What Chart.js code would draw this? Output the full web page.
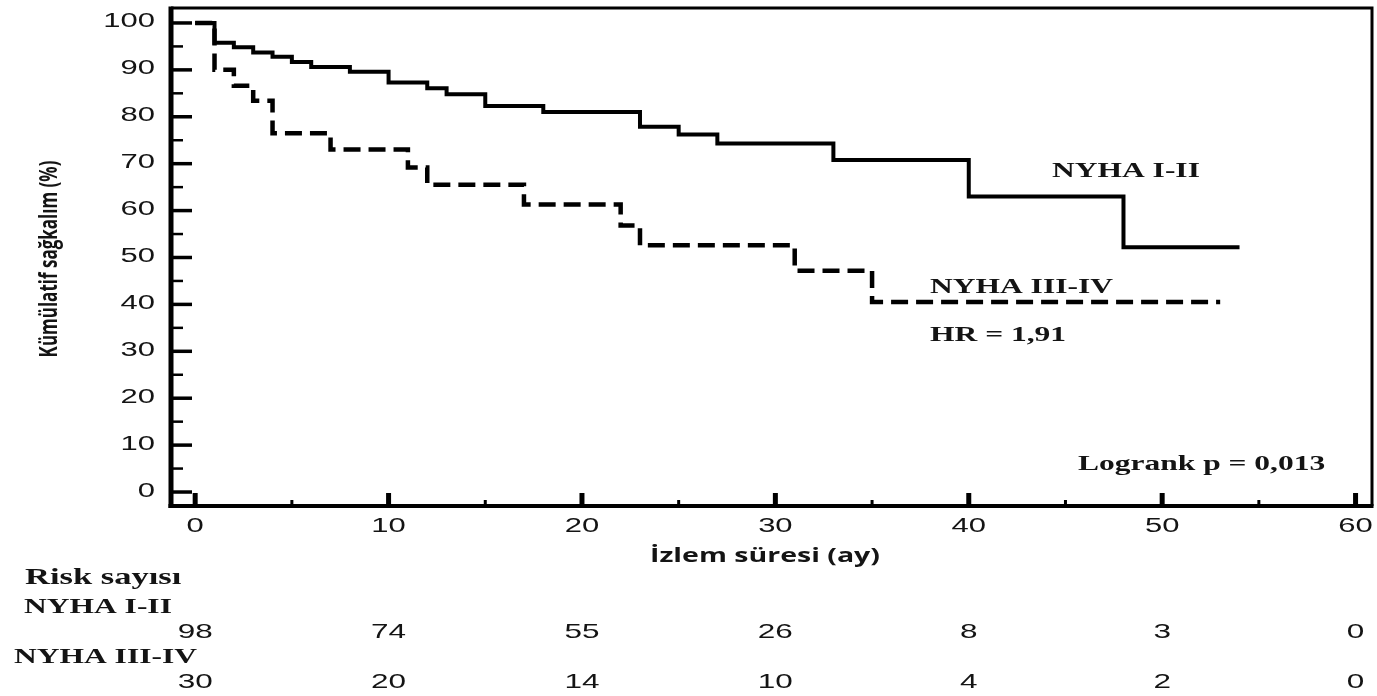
<!DOCTYPE html>
<html lang="tr">
<head>
<meta charset="utf-8">
<title>Kümülatif sağkalım – NYHA sınıfı</title>
<script src="https://cdn.jsdelivr.net/npm/chart.js@4/dist/chart.umd.min.js"></script>
<style>
  html, body { margin: 0; padding: 0; background: #ffffff; }
  #wrap { width: 1377px; height: 696px; }
</style>
</head>
<body>
<div id="wrap"><canvas id="km" width="1377" height="696"></canvas></div>
<script>
// Kaplan–Meier survival steps (months, cumulative survival %)
const nyha12Months = [0, 1, 2, 3, 4, 5, 6, 8, 10, 12, 13, 15, 18, 23, 25, 27, 33, 40, 48, 54];
const nyha12Surv   = [100, 95.8, 94.8, 93.7, 92.8, 91.7, 90.6, 89.6, 87.3, 86.1, 84.8, 82.3, 81.0, 77.9, 76.2, 74.3, 70.8, 63.0, 52.2, 52.2];

const nyha34Months = [0, 1, 2, 3, 4, 7, 11, 12, 17, 22, 23, 31, 35, 53];
const nyha34Surv   = [100, 90.0, 86.6, 83.4, 76.5, 73.0, 69.2, 65.5, 61.3, 56.8, 52.6, 47.2, 40.5, 40.5];

// Axis ticks
const xTicks = [0, 10, 20, 30, 40, 50, 60];
const yTicks = [0, 10, 20, 30, 40, 50, 60, 70, 80, 90, 100];

// Number at risk at each x tick
const riskNyha12 = [98, 74, 55, 26, 8, 3, 0];
const riskNyha34 = [30, 20, 14, 10, 4, 2, 0];

const toPoints = (xs, ys) => xs.map((x, i) => ({ x: x, y: ys[i] }));

const INK = '#141414';
const STRETCH = 1.5;

function stretchedText(ctx, text, x, y, font, align, sx) {
  ctx.save();
  ctx.translate(x, y);
  ctx.scale(sx || STRETCH, 1);
  ctx.font = font;
  ctx.fillStyle = INK;
  ctx.textAlign = align;
  ctx.textBaseline = 'middle';
  ctx.fillText(text, 0, 0);
  ctx.restore();
}

// Frame, inward tick marks, labels and the risk table
const kmDecor = {
  id: 'kmDecor',
  afterDatasetsDraw(chart) {
    const ctx = chart.ctx;
    const a = chart.chartArea;
    const xs = chart.scales.x;
    const ys = chart.scales.y;

    ctx.save();
    ctx.strokeStyle = '#000';
    ctx.lineCap = 'butt';

    // frame
    ctx.lineWidth = 3;
    ctx.beginPath();
    ctx.moveTo(a.left, a.top); ctx.lineTo(a.right, a.top); ctx.lineTo(a.right, a.bottom);
    ctx.stroke();
    ctx.lineWidth = 5;
    ctx.beginPath(); ctx.moveTo(a.left, a.top - 1.5); ctx.lineTo(a.left, a.bottom + 2); ctx.stroke();
    ctx.lineWidth = 4;
    ctx.beginPath(); ctx.moveTo(a.left - 2.5, a.bottom); ctx.lineTo(a.right + 1.5, a.bottom); ctx.stroke();

    // y ticks (major every 10, minor every 5), pointing inward
    for (let v = 0; v <= 100; v += 5) {
      const py = ys.getPixelForValue(v);
      const major = v % 10 === 0;
      ctx.lineWidth = major ? 3.5 : 2.5;
      ctx.beginPath();
      ctx.moveTo(a.left, py);
      ctx.lineTo(a.left + (major ? 21 : 12), py);
      ctx.stroke();
    }
    // x ticks
    for (let v = 0; v <= 60; v += 5) {
      const px = xs.getPixelForValue(v);
      const major = v % 10 === 0;
      ctx.lineWidth = major ? 5 : 3;
      ctx.beginPath();
      ctx.moveTo(px, a.bottom);
      ctx.lineTo(px, a.bottom - (major ? 13 : 6));
      ctx.stroke();
    }
    ctx.restore();

    const tickFont = '20px "Liberation Sans", Arial, sans-serif';
    yTicks.forEach(v => stretchedText(ctx, String(v), 155, ys.getPixelForValue(v) - 1, tickFont, 'right', 1.55));
    xTicks.forEach(v => stretchedText(ctx, String(v), xs.getPixelForValue(v), 526, tickFont, 'center', 1.55));

    // axis titles
    stretchedText(ctx, 'İzlem süresi (ay)', 765, 557, 'bold 19px "Open Sans", sans-serif', 'center');
    ctx.save();
    ctx.translate(50, 259);
    ctx.scale(STRETCH, 1);
    ctx.rotate(-Math.PI / 2);
    ctx.font = 'bold 17px "Open Sans", sans-serif';
    ctx.fillStyle = INK;
    ctx.textAlign = 'center';
    ctx.textBaseline = 'middle';
    ctx.fillText('Kümülatif sağkalım (%)', 0, 0);
    ctx.restore();

    // in-plot annotations
    const serif = 'bold 21px "Liberation Serif", "Times New Roman", serif';
    stretchedText(ctx, 'NYHA I-II', 1052, 172, serif, 'left');
    stretchedText(ctx, 'NYHA III-IV', 930, 288, serif, 'left');
    stretchedText(ctx, 'HR = 1,91', 930, 336, serif, 'left');
    stretchedText(ctx, 'Logrank p = 0,013', 1078, 465, serif, 'left');

    // number at risk table
    stretchedText(ctx, 'Risk sayısı', 25, 578, 'bold 23px "Liberation Serif", serif', 'left');
    stretchedText(ctx, 'NYHA I-II', 24, 608, serif, 'left');
    stretchedText(ctx, 'NYHA III-IV', 14, 658, serif, 'left');
    const numFont = '21px "Liberation Sans", Arial, sans-serif';
    xTicks.forEach((t, i) => {
      const px = xs.getPixelForValue(t);
      stretchedText(ctx, String(riskNyha12[i]), px, 632, numFont, 'center');
      stretchedText(ctx, String(riskNyha34[i]), px, 682, numFont, 'center');
    });
  }
};

const whiteBg = {
  id: 'whiteBg',
  beforeDraw(chart) {
    const ctx = chart.ctx;
    ctx.save();
    ctx.fillStyle = '#ffffff';
    ctx.fillRect(0, 0, chart.width, chart.height);
    ctx.restore();
  }
};

new Chart(document.getElementById('km'), {
  type: 'line',
  data: {
    datasets: [
      {
        label: 'NYHA I-II',
        data: toPoints(nyha12Months, nyha12Surv),
        stepped: 'before',
        borderColor: '#000',
        borderWidth: 4,
        borderCapStyle: 'butt',
        borderJoinStyle: 'miter',
        pointRadius: 0,
        fill: false
      },
      {
        label: 'NYHA III-IV',
        data: toPoints(nyha34Months, nyha34Surv),
        stepped: 'before',
        borderColor: '#000',
        borderWidth: 4.5,
        borderDash: [17, 8],
        borderCapStyle: 'butt',
        borderJoinStyle: 'miter',
        pointRadius: 0,
        fill: false
      }
    ]
  },
  options: {
    responsive: false,
    animation: false,
    events: [],
    layout: { padding: { left: 171, right: 5, top: 8, bottom: 190 } },
    plugins: {
      legend: { display: false },
      tooltip: { enabled: false },
      title: { display: false }
    },
    scales: {
      x: {
        type: 'linear',
        display: false,
        min: -1.25,
        max: 60.85
      },
      y: {
        type: 'linear',
        display: false,
        min: -2.98,
        max: 103.19
      }
    }
  },
  plugins: [whiteBg, kmDecor]
});
</script>
</body>
</html>
